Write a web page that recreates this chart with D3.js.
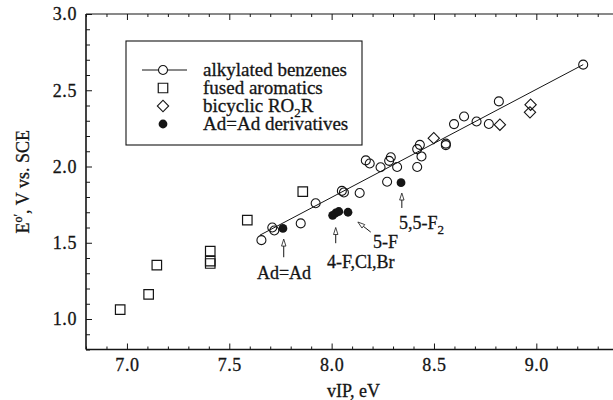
<!DOCTYPE html>
<html>
<head>
<meta charset="utf-8">
<script src="https://cdn.jsdelivr.net/npm/d3@7"></script>
<style>
  html, body { margin: 0; padding: 0; background: #fff; }
  svg { display: block; font-family: "Liberation Serif", "Times New Roman", serif; }
  svg text { stroke: #151515; stroke-width: 0.3px; }
</style>
</head>
<body>
<svg id="chart" width="613" height="400"></svg>
<script>
// ---- data ----
const alkylX = [7.657, 7.71, 7.72, 7.849, 7.922, 8.05, 8.06, 8.137, 8.167, 8.186, 8.239, 8.271, 8.281, 8.289, 8.32, 8.418, 8.439, 8.418, 8.431, 8.558, 8.558, 8.598, 8.647, 8.708, 8.768, 8.817, 9.229];
const alkylY = [1.517, 1.60, 1.58, 1.627, 1.759, 1.84, 1.83, 1.826, 2.04, 2.02, 1.995, 1.90, 2.037, 2.061, 1.997, 1.997, 2.066, 2.114, 2.142, 2.14, 2.15, 2.278, 2.328, 2.295, 2.279, 2.427, 2.668];
const fusedX = [6.967, 7.106, 7.146, 7.407, 7.407, 7.407, 7.588, 7.859];
const fusedY = [1.061, 1.162, 1.353, 1.445, 1.379, 1.364, 1.649, 1.835];
const bicycX = [8.499, 8.822, 8.972, 8.969];
const bicycY = [2.186, 2.274, 2.405, 2.355];
const adadX = [7.762, 8.005, 8.02, 8.035, 8.08, 8.339];
const adadY = [1.594, 1.68, 1.695, 1.705, 1.70, 1.894];
const fitLineX = [7.65, 9.229];
const fitLineY = [1.55, 2.668];

const xTicks = [7.0, 7.5, 8.0, 8.5, 9.0];
const yTicks = [1.0, 1.5, 2.0, 2.5, 3.0];
const xDomain = [6.8, 9.4];
const yDomain = [0.8, 3.0];

const legendLabels = ["alkylated benzenes", "fused aromatics", "bicyclic RO|2|R", "Ad=Ad derivatives"];

// annotations: label, text anchor (data), arrow from -> to (data)
const annotations = [
  { label: "Ad=Ad", tx: 7.635, ty: 1.262, x1: 7.766, y1: 1.405, x2: 7.766, y2: 1.524 },
  { label: "4-F,Cl,Br", tx: 7.977, ty: 1.334, x1: 8.02, y1: 1.497, x2: 8.02, y2: 1.60 },
  { label: "5-F", tx: 8.202, ty: 1.466, x1: 8.191, y1: 1.57, x2: 8.128, y2: 1.636 },
  { label: "5,5-F|2|", tx: 8.329, ty: 1.590, x1: 8.343, y1: 1.728, x2: 8.343, y2: 1.826 }
];

(function draw() {
  const svg = d3.select("#chart");
  const pL = 86, pR = 618.2, pT = 14, pB = 349.5;
  const x = d3.scaleLinear().domain(xDomain).range([pL, pR]);
  const y = d3.scaleLinear().domain(yDomain).range([pB, pT]);
  const ink = "#151515";
  const fontSize = 18;

  function range01(a, b) { const out = []; for (let i = Math.round(a * 10); i <= Math.round(b * 10); i++) out.push(i / 10); return out; }
  const xMinor = range01(xDomain[0], xDomain[1]).filter(v => !xTicks.some(t => Math.abs(t - v) < 1e-6));
  const yMinor = range01(yDomain[0], yDomain[1]).filter(v => !yTicks.some(t => Math.abs(t - v) < 1e-6));

  function styleAxis(g) {
    g.select(".domain").remove();
    g.selectAll("line").attr("stroke", ink).attr("stroke-width", 1);
    g.selectAll("text").attr("fill", ink).attr("font-size", fontSize).attr("font-family", "Liberation Serif, serif").attr("letter-spacing", 0.6);
  }

  svg.append("g").attr("transform", `translate(0,${pB})`)
    .call(d3.axisBottom(x).tickValues(xTicks).tickSize(-6).tickPadding(9).tickFormat(d3.format(".1f")))
    .call(styleAxis);
  svg.append("g").attr("transform", `translate(0,${pB})`)
    .call(d3.axisBottom(x).tickValues(xMinor).tickSize(-3).tickFormat(""))
    .call(styleAxis);
  svg.append("g").attr("transform", `translate(0,${pT})`)
    .call(d3.axisTop(x).tickValues(xTicks).tickSize(-6).tickFormat(""))
    .call(styleAxis);
  svg.append("g").attr("transform", `translate(0,${pT})`)
    .call(d3.axisTop(x).tickValues(xMinor).tickSize(-3).tickFormat(""))
    .call(styleAxis);
  svg.append("g").attr("transform", `translate(${pL},0)`)
    .call(d3.axisLeft(y).tickValues(yTicks).tickSize(-6).tickPadding(9).tickFormat(d3.format(".1f")))
    .call(styleAxis);
  svg.append("g").attr("transform", `translate(${pL},0)`)
    .call(d3.axisLeft(y).tickValues(yMinor).tickSize(-4).tickFormat(""))
    .call(styleAxis);

  svg.append("line").attr("x1", pL).attr("x2", 613).attr("y1", pB).attr("y2", pB).attr("stroke", ink).attr("stroke-width", 1.6);
  svg.append("line").attr("x1", pL).attr("x2", 613).attr("y1", pT).attr("y2", pT).attr("stroke", ink).attr("stroke-width", 1.2);
  svg.append("line").attr("x1", pL).attr("x2", pL).attr("y1", pT).attr("y2", pB).attr("stroke", ink).attr("stroke-width", 1.6);

  svg.append("text").attr("x", (pL + 613) / 2 + 4).attr("y", 397)
    .attr("text-anchor", "middle").attr("font-size", fontSize).attr("fill", ink).text("vIP, eV");
  const yt = svg.append("text").attr("transform", `translate(29,${(pT + pB) / 2}) rotate(-90)`)
    .attr("text-anchor", "middle").attr("font-size", fontSize).attr("fill", ink);
  yt.append("tspan").text("E");
  yt.append("tspan").attr("dy", -7).attr("font-size", 12).text("o\u2032");
  yt.append("tspan").attr("dy", 7).text(", V vs. SCE");

  const line = d3.line().x(d => x(d[0])).y(d => y(d[1]));
  svg.append("path").datum(d3.zip(fitLineX, fitLineY)).attr("d", line)
    .attr("fill", "none").attr("stroke", ink).attr("stroke-width", 1);

  const plot = svg.append("g");
  const symCircle = d3.symbol().type(d3.symbolCircle).size(Math.PI * 4.5 * 4.5);
  const symSquare = d3.symbol().type(d3.symbolSquare).size(9.5 * 9.5);
  const symDiamond = d3.symbol().type(d3.symbolSquare).size(8 * 8);

  plot.selectAll(".alk").data(d3.zip(alkylX, alkylY)).join("path")
    .attr("d", symCircle).attr("transform", d => `translate(${x(d[0])},${y(d[1])})`)
    .attr("fill", "none").attr("stroke", ink).attr("stroke-width", 1.1);
  plot.selectAll(".fus").data(d3.zip(fusedX, fusedY)).join("path")
    .attr("d", symSquare).attr("transform", d => `translate(${x(d[0])},${y(d[1])})`)
    .attr("fill", "none").attr("stroke", ink).attr("stroke-width", 1.2);
  plot.selectAll(".bic").data(d3.zip(bicycX, bicycY)).join("path")
    .attr("d", symDiamond).attr("transform", d => `translate(${x(d[0])},${y(d[1])}) rotate(45)`)
    .attr("fill", "none").attr("stroke", ink).attr("stroke-width", 1.1);
  plot.selectAll(".ad").data(d3.zip(adadX, adadY)).join("circle")
    .attr("cx", d => x(d[0])).attr("cy", d => y(d[1])).attr("r", 4.4).attr("fill", ink);

  function richText(sel, str) {
    const parts = str.split("|");
    parts.forEach((p, i) => {
      if (!p) return;
      if (i % 2 === 1) sel.append("tspan").attr("dy", 5).attr("font-size", 13).text(p);
      else sel.append("tspan").attr("dy", i === 0 ? 0 : -5).text(p);
    });
  }

  annotations.forEach(a => {
    const t = svg.append("text").attr("x", x(a.tx)).attr("y", y(a.ty))
      .attr("font-size", fontSize).attr("fill", ink);
    richText(t, a.label);
    const X1 = x(a.x1), Y1 = y(a.y1), X2 = x(a.x2), Y2 = y(a.y2);
    const ang = Math.atan2(Y2 - Y1, X2 - X1);
    const hl = 7, hw = 2.2;
    const bx = X2 - hl * Math.cos(ang), by = Y2 - hl * Math.sin(ang);
    svg.append("line").attr("x1", X1).attr("y1", Y1).attr("x2", bx).attr("y2", by)
      .attr("stroke", ink).attr("stroke-width", 1);
    const px = -Math.sin(ang) * hw, py = Math.cos(ang) * hw;
    svg.append("path")
      .attr("d", `M${X2},${Y2}L${bx + px},${by + py}L${bx - px},${by - py}Z`)
      .attr("fill", "#fff").attr("stroke", ink).attr("stroke-width", 0.8);
  });

  const lg = svg.append("g");
  lg.append("rect").attr("x", 126).attr("y", 41).attr("width", 236).attr("height", 104)
    .attr("fill", "#fff").attr("stroke", ink).attr("stroke-width", 1.1);
  const rowY = i => 70 + i * 18;
  lg.append("line").attr("x1", 142).attr("x2", 187).attr("y1", rowY(0)).attr("y2", rowY(0)).attr("stroke", ink).attr("stroke-width", 1);
  lg.append("path").attr("d", symCircle).attr("transform", `translate(163,${rowY(0)})`).attr("fill", "#fff").attr("stroke", ink).attr("stroke-width", 1.1);
  lg.append("path").attr("d", symSquare).attr("transform", `translate(163,${rowY(1)})`).attr("fill", "none").attr("stroke", ink).attr("stroke-width", 1.2);
  lg.append("path").attr("d", symDiamond).attr("transform", `translate(163,${rowY(2)}) rotate(45)`).attr("fill", "none").attr("stroke", ink).attr("stroke-width", 1.1);
  lg.append("circle").attr("cx", 163).attr("cy", rowY(3)).attr("r", 4.4).attr("fill", ink);
  legendLabels.forEach((l, i) => {
    const t = lg.append("text").attr("x", 203).attr("y", rowY(i) + 6).attr("font-size", 19).attr("fill", ink);
    richText(t, l);
  });
})();
</script>
</body>
</html>
